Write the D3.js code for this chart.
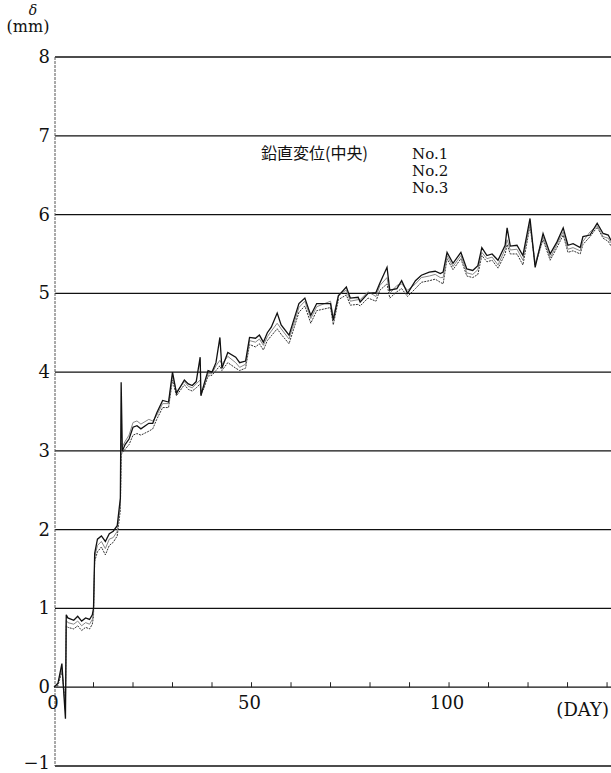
<!DOCTYPE html>
<html>
<head>
<meta charset="utf-8">
<script src="https://cdn.jsdelivr.net/npm/d3@7"></script>
<style>
  body { margin: 0; background: #fff; }
</style>
</head>
<body>
<div id="chart"></div>
<script>
// elapsed days of the readings
var days = [0,1,2,2.9,3.1,3.5,5,6,7,8,
            9,9.7,10,10.3,11,12,13,14,15,16,
            16.8,17,17.3,18,19,20,21,22,24,25,
            26,27.5,29,30,31,33,34,35,36,37,
            37.2,38,39,40,41,42,42.5,44,46,47,
            48.5,49.5,51,52,53,54,55,56.5,57.5,59.5,
            62,63.5,65,66.5,70,70.7,72,74,75,77,
            77.5,79.5,81.5,82.5,84.3,85,86.8,88,89.5,91.5,
            93,95,96.5,97.8,98.5,99.5,101,103,104.5,106,
            107.3,108.3,109.6,110.9,112.4,114.2,114.7,115.5,117.2,118.7,
            120.5,121.8,123.8,125.6,127.3,128.9,130.1,131.4,133.2,133.9,
            135.7,137.5,139,140.3,141];

// vertical displacement (mm)
var no1 = [0,0.05,0.3,-0.4,0.92,0.88,0.85,0.9,0.84,0.88,
           0.86,0.92,1.0,1.7,1.88,1.92,1.85,1.95,1.98,2.05,
           2.4,3.87,3.0,3.08,3.15,3.3,3.32,3.28,3.35,3.35,
           3.48,3.64,3.62,4.0,3.73,3.9,3.85,3.83,3.88,4.19,
           3.7,3.85,4.02,4.0,4.12,4.44,4.05,4.25,4.19,4.12,
           4.14,4.44,4.43,4.47,4.38,4.5,4.57,4.75,4.6,4.47,
           4.87,4.94,4.72,4.87,4.87,4.66,4.97,5.08,4.94,4.95,
           4.89,5.0,5.01,5.13,5.33,5.04,5.06,5.16,5.0,5.16,
           5.23,5.27,5.28,5.25,5.27,5.52,5.38,5.52,5.31,5.29,
           5.35,5.58,5.48,5.5,5.42,5.61,5.83,5.6,5.61,5.48,
           5.95,5.33,5.76,5.5,5.65,5.83,5.61,5.63,5.58,5.72,
           5.74,5.89,5.76,5.74,5.67];
var no2 = [0,0.04,0.25,-0.3,0.85,0.82,0.8,0.84,0.78,0.82,
           0.8,0.86,0.95,1.65,1.8,1.85,1.76,1.88,1.9,1.98,
           2.3,3.1,3.05,3.12,3.2,3.36,3.38,3.34,3.4,3.38,
           3.45,3.6,3.6,3.95,3.75,3.88,3.82,3.8,3.85,3.9,
           3.75,3.82,3.98,3.98,4.08,4.15,4.1,4.2,4.12,4.06,
           4.1,4.4,4.38,4.42,4.34,4.45,4.52,4.62,4.55,4.42,
           4.82,4.9,4.68,4.83,4.9,4.7,4.98,5.04,4.9,4.92,
           4.92,5.02,4.96,5.1,5.2,5.0,5.1,5.12,5.04,5.12,
           5.2,5.22,5.24,5.2,5.2,5.48,5.34,5.48,5.26,5.24,
           5.3,5.52,5.44,5.46,5.36,5.56,5.68,5.55,5.56,5.42,
           5.9,5.38,5.72,5.45,5.62,5.78,5.56,5.58,5.54,5.66,
           5.78,5.86,5.72,5.7,5.64];
var no3 = [0,0.02,0.2,-0.2,0.78,0.76,0.74,0.78,0.72,0.76,
           0.74,0.8,0.9,1.6,1.72,1.78,1.68,1.8,1.84,1.92,
           2.25,2.95,2.98,3.02,3.08,3.2,3.22,3.2,3.25,3.28,
           3.4,3.55,3.55,3.9,3.7,3.84,3.78,3.76,3.8,3.85,
           3.72,3.8,3.95,3.96,4.02,4.08,4.02,4.12,4.05,4.02,
           4.05,4.35,4.32,4.36,4.28,4.4,4.46,4.55,4.48,4.36,
           4.76,4.84,4.62,4.78,4.82,4.6,4.92,4.98,4.85,4.86,
           4.84,4.94,4.9,5.04,5.12,4.94,5.02,5.06,4.96,5.06,
           5.14,5.16,5.18,5.14,5.12,5.44,5.3,5.44,5.22,5.2,
           5.24,5.48,5.4,5.42,5.32,5.5,5.62,5.5,5.5,5.36,
           5.86,5.36,5.68,5.42,5.58,5.74,5.52,5.54,5.5,5.62,
           5.72,5.84,5.7,5.66,5.6];

var yTicks = [-1,0,1,2,3,4,5,6,7,8];
var xTicks = [0,10,20,30,40,50,60,70,80,90,100,110,120,130,140];
var xLabels = [0,50,100];
var seriesNames = ["No.1","No.2","No.3"];

var width = 611, height = 773,
    serif = "DejaVu Serif";

var x = d3.scaleLinear().domain([0, 141]).range([54, 611]),
    y = d3.scaleLinear().domain([-1, 8]).range([766, 57]);

var svg = d3.select("#chart").append("svg")
    .attr("width", width)
    .attr("height", height)
    .attr("font-family", serif);

// horizontal grid lines
svg.selectAll("line.grid")
    .data(yTicks)
  .enter().append("line")
    .attr("class","grid")
    .attr("x1", x(0) + 1)
    .attr("x2", width)
    .attr("y1", function(d){ return y(d); })
    .attr("y2", function(d){ return y(d); })
    .attr("stroke", "#111")
    .attr("stroke-width", 1.3);

// left axis (dashed, greyish)
svg.append("line")
    .attr("x1", x(0) + 1).attr("x2", x(0) + 1)
    .attr("y1", y(8)).attr("y2", y(-1))
    .attr("stroke", "#555")
    .attr("stroke-width", 1)
    .attr("stroke-dasharray", "3,1");

// y tick labels
svg.selectAll("text.ylab")
    .data(yTicks)
  .enter().append("text")
    .attr("class","ylab")
    .attr("x", 50)
    .attr("y", function(d){ return y(d) + (d < 0 ? 3 : 6); })
    .attr("text-anchor","end")
    .attr("font-family", serif)
    .attr("font-size", 18)
    .attr("fill","#111")
    .text(function(d){ return d < 0 ? "\u2212" + Math.abs(d) : d; });

// small day ticks along zero line
svg.selectAll("line.xtick")
    .data(xTicks.slice(1))
  .enter().append("line")
    .attr("class","xtick")
    .attr("x1", function(d){ return x(d); })
    .attr("x2", function(d){ return x(d); })
    .attr("y1", y(0))
    .attr("y2", y(0) - 5)
    .attr("stroke","#222")
    .attr("stroke-width",1);

svg.selectAll("text.xlab")
    .data(xLabels)
  .enter().append("text")
    .attr("class","xlab")
    .attr("x", function(d){ return x(d) - (d === 0 ? 1 : 2); })
    .attr("y", y(0) + 22)
    .attr("text-anchor","middle")
    .attr("font-family", serif)
    .attr("font-size", 18)
    .attr("fill","#111")
    .text(function(d){ return d; });

svg.append("text")
    .attr("x", 609).attr("y", 716)
    .attr("text-anchor","end")
    .attr("font-family", serif)
    .attr("font-size", 18)
    .attr("fill","#111")
    .text("(DAY)");

// y axis title
svg.append("text")
    .attr("x", 33).attr("y", 15)
    .attr("text-anchor","middle")
    .attr("font-family", serif)
    .attr("font-size", 14)
    .attr("font-style","italic")
    .attr("fill","#111")
    .text("\u03b4");
svg.append("text")
    .attr("x", 28).attr("y", 32)
    .attr("text-anchor","middle")
    .attr("font-family", serif)
    .attr("font-size", 16)
    .attr("fill","#111")
    .text("(mm)");

// legend text
svg.append("text")
    .attr("x", 261).attr("y", 159)
    .attr("font-family","Noto Sans CJK JP")
    .attr("font-size", 16)
    .attr("fill","#111")
    .text("鉛直変位(中央)");
svg.selectAll("text.leg")
    .data(seriesNames)
  .enter().append("text")
    .attr("class","leg")
    .attr("x", 412)
    .attr("y", function(d, i){ return 159 + i * 17; })
    .attr("font-family", serif)
    .attr("font-size", 15)
    .attr("fill","#111")
    .text(function(d){ return d; });

// lines
var line = d3.line()
    .x(function(d){ return x(d[0]); })
    .y(function(d){ return y(d[1]); });

var series = [
  {vals: no3, color: "#333", w: 1, dash: "2,1"},
  {vals: no2, color: "#888", w: 1, dash: null},
  {vals: no1, color: "#111", w: 1.3, dash: null}
];

svg.selectAll("path.series")
    .data(series)
  .enter().append("path")
    .attr("class","series")
    .attr("d", function(s){ return line(days.map(function(d, i){ return [d, s.vals[i]]; })); })
    .attr("fill","none")
    .attr("stroke", function(s){ return s.color; })
    .attr("stroke-width", function(s){ return s.w; })
    .attr("stroke-dasharray", function(s){ return s.dash; });
</script>
</body>
</html>
